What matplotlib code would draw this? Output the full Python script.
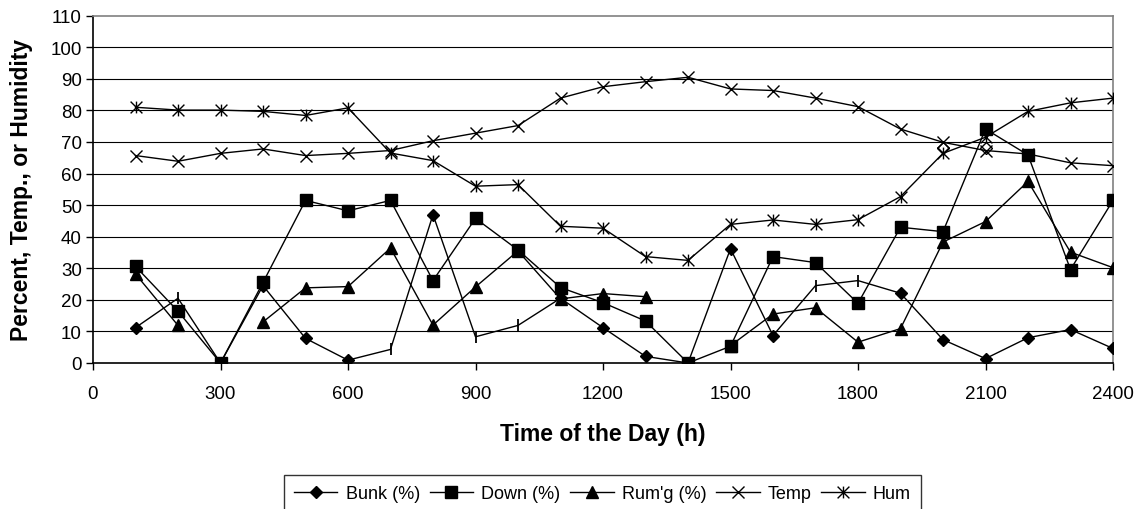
import numpy as np
import matplotlib
matplotlib.use("Agg")
import matplotlib.pyplot as plt
from matplotlib.path import Path

plt.rcParams['font.family'] = ['Liberation Sans', 'DejaVu Sans']

# ---- data ----
hours = [100, 200, 300, 400, 500, 600, 700, 800, 900, 1000, 1100, 1200,
         1300, 1400, 1500, 1600, 1700, 1800, 1900, 2000, 2100, 2200, 2300, 2400]
bunk = [11.2, 20.5, 0.0, 24.5, 7.8, 0.9, 4.3, 47.0, 8.3, 11.9, 20.5, 11.2,
        2.1, 0.0, 36.2, 8.7, 24.5, 26.1, 22.1, 7.4, 1.4, 8.0, 10.6, 4.6]
bunk_tick_hours = [200, 700, 900, 1000, 1700, 1800]   # points drawn with '|' marker
down = [30.6, 16.4, 0.0, 25.5, 51.5, 48.2, 51.5, 26.1, 45.8, 35.8, 23.9, 19.1,
        13.3, 0.0, 5.3, 33.7, 31.8, 18.9, 43.0, 41.6, 74.1, 65.9, 29.6, 51.5]
rumg = [28.2, 11.9, np.nan, 13.0, 23.8, 24.2, 36.4, 12.0, 24.1, 35.5, 20.3, 22.0,
        21.0, np.nan, 5.5, 15.5, 17.5, 6.6, 10.9, 38.3, 44.8, 57.5, 35.1, 30.2]
temp = [65.7, 63.9, 66.4, 67.8, 65.7, 66.4, 67.3, 70.4, 72.8, 75.2, 83.9, 87.5,
        89.1, 90.5, 86.8, 86.3, 83.9, 81.2, 74.1, 69.9, 67.3, 66.2, 63.4, 62.5]
hum = [81.0, 80.1, 80.1, 79.7, 78.4, 80.8, 66.5, 64.1, 56.0, 56.5, 43.3, 42.7,
       33.7, 32.5, 43.9, 45.3, 43.9, 45.4, 52.7, 66.4, 71.5, 79.7, 82.4, 83.9]
hollow_hours = [2000, 2100]
hollow_vals = [68.0, 68.0]

x_ticks = [0, 300, 600, 900, 1200, 1500, 1800, 2100, 2400]
y_ticks = list(range(0, 111, 10))

# ---- figure ----
fig = plt.figure(figsize=(11.41, 5.10), dpi=100)
ax = fig.add_axes([93/1141, 1 - 364/510, (1113-93)/1141, (364-16.7)/510])

ax.set_xlim(0, 2400)
ax.set_ylim(0, 110)
ax.set_xticks(x_ticks)
ax.set_yticks(y_ticks)
for yv in y_ticks[1:-1]:
    ax.axhline(yv, color='black', lw=0.8, zorder=0)

lw = 1.0
star = Path([(-1, -1), (1, 1), (-1, 1), (1, -1), (0, -1), (0, 1)],
            [Path.MOVETO, Path.LINETO, Path.MOVETO, Path.LINETO, Path.MOVETO, Path.LINETO])

hrs = np.array(hours)
bunk_arr = np.array(bunk)
tick_mask = np.isin(hrs, bunk_tick_hours)
diamond_idx = [i for i in range(len(hours)) if not tick_mask[i]]

ax.plot(hours, bunk, color='black', lw=lw, marker='D', ms=6.3,
        markevery=diamond_idx, label='Bunk (%)', zorder=3)
ax.plot(hrs[tick_mask], bunk_arr[tick_mask], ls='none', marker='|', ms=9,
        mew=1.3, color='black', zorder=3)
ax.plot(hours, down, color='black', lw=lw, marker='s', ms=8.8,
        label='Down (%)', zorder=3)
ax.plot(hours, rumg, color='black', lw=lw, marker='^', ms=8.8,
        label="Rum'g (%)", zorder=3)
ax.plot(hours, temp, color='black', lw=lw, marker='x', ms=8.5, mew=1.0,
        label='Temp', zorder=3)
ax.plot(hours, hum, color='black', lw=lw, marker=star, ms=8.5, mew=1.0,
        mfc='none', label='Hum', zorder=3)
ax.plot(hollow_hours, hollow_vals, ls='none', marker='D', ms=6.3,
        mfc='white', mec='black', mew=1.0, zorder=2)

for side in ['top', 'right']:
    ax.spines[side].set_color('#808080')
    ax.spines[side].set_linewidth(1.2)
for side in ['left', 'bottom']:
    ax.spines[side].set_color('black')
    ax.spines[side].set_linewidth(1.2)

ax.tick_params(axis='both', labelsize=13.5, colors='black', direction='out',
               width=1.0)
ax.tick_params(axis='y', length=5, pad=3)
ax.tick_params(axis='x', length=5, pad=11)

ax.set_xlabel('Time of the Day (h)', fontsize=16.5, fontweight='bold', va='center')
ax.xaxis.set_label_coords(0.5, -(435 - 364) / (364 - 16.7))
ax.set_ylabel('Percent, Temp., or Humidity', fontsize=16.5, fontweight='bold',
              va='center')
ax.yaxis.set_label_coords((22 - 93) / (1113 - 93), 0.5)

leg = ax.legend(loc='upper center', bbox_to_anchor=(602.5/1141, 1 - 476/510),
                bbox_transform=fig.transFigure, ncol=5, frameon=True,
                fancybox=False, edgecolor='black', fontsize=13,
                handlelength=2.4, handletextpad=0.45, columnspacing=0.55,
                borderpad=0.55, borderaxespad=0)
leg.get_frame().set_linewidth(1.0)

fig.savefig('out.png', dpi=100)
